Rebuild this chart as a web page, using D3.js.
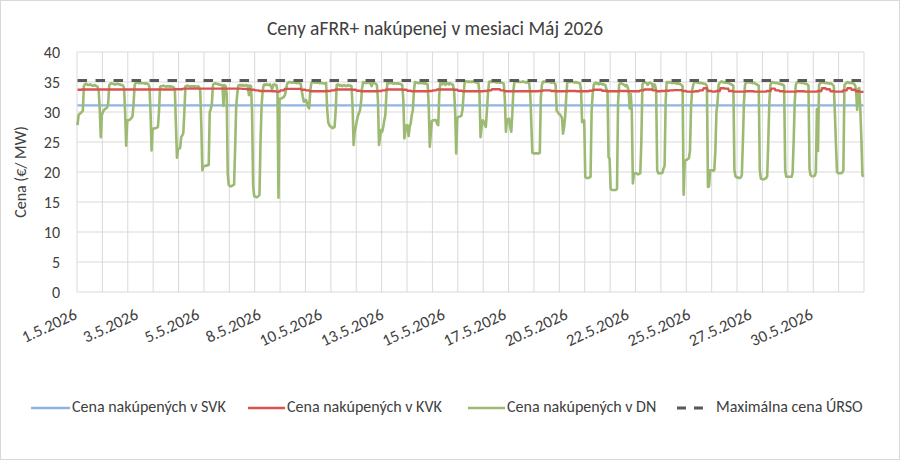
<!DOCTYPE html>
<html>
<head>
<meta charset="utf-8">
<script src="https://cdn.jsdelivr.net/npm/d3@7"></script>
<style>
  body { margin: 0; background: #fff; }
  text { font-family: Carlito, "Open Sans", Lato, sans-serif; fill: #404040; }
</style>
</head>
<body>
<div id="canvas"></div>
<script>
  const width = 900;
  const height = 460;

  const dates = ['1.5.2026', '2.5.2026', '3.5.2026', '4.5.2026', '5.5.2026', '6.5.2026', '7.5.2026', '8.5.2026',
    '9.5.2026', '10.5.2026', '11.5.2026', '12.5.2026', '13.5.2026', '14.5.2026', '15.5.2026', '16.5.2026',
    '17.5.2026', '18.5.2026', '19.5.2026', '20.5.2026', '21.5.2026', '22.5.2026', '23.5.2026', '24.5.2026',
    '25.5.2026', '26.5.2026', '27.5.2026', '28.5.2026', '29.5.2026', '30.5.2026', '31.5.2026'];
  const yTicks = [0, 5, 10, 15, 20, 25, 30, 35, 40];
  const labelEvery = 58; // hours between category labels

  // hourly price of aFRR+ bought on the day-ahead market (DN), one row per day
  const dnPrice = [
    [27.8, 29.5, 29.7, 29.8, 30.0, 30.2, 34.3, 34.6, 34.7, 34.6, 34.5, 34.5, 34.6, 34.5, 34.4, 34.4, 34.5, 34.4, 34.3, 34.2, 33.5, 30.5, 25.8, 29.5],
    [30.0, 30.3, 30.5, 30.6, 30.8, 31.5, 34.5, 34.7, 34.8, 34.7, 34.7, 34.6, 34.6, 34.7, 34.7, 34.6, 34.6, 34.5, 34.5, 34.4, 34.0, 30.0, 24.4, 28.6],
    [28.6, 28.7, 28.8, 29.0, 29.3, 31.5, 34.5, 34.8, 34.9, 34.9, 34.8, 34.8, 34.9, 34.8, 34.8, 34.8, 34.7, 34.8, 34.7, 34.6, 34.2, 30.0, 23.6, 27.2],
    [27.2, 27.3, 27.3, 27.4, 27.5, 30.0, 34.2, 34.3, 34.3, 34.4, 34.3, 34.3, 34.2, 34.3, 34.3, 34.2, 34.3, 34.2, 34.2, 34.1, 33.8, 28.0, 22.4, 23.8],
    [23.9, 24.0, 25.8, 26.1, 26.5, 30.0, 34.3, 34.3, 34.4, 34.3, 34.3, 34.2, 34.3, 34.3, 34.2, 34.3, 34.2, 34.2, 34.3, 34.1, 33.5, 28.0, 20.3, 21.0],
    [21.0, 21.0, 21.1, 21.1, 21.2, 30.0, 30.5, 31.4, 34.5, 34.7, 34.8, 34.7, 34.7, 34.6, 34.6, 34.5, 34.5, 34.5, 31.0, 34.5, 34.3, 33.0, 19.7, 17.8],
    [17.7, 17.6, 17.7, 17.8, 17.9, 24.0, 31.0, 33.0, 34.4, 34.5, 34.5, 34.4, 34.5, 34.4, 34.4, 34.5, 34.4, 34.4, 32.8, 34.4, 34.3, 30.0, 17.8, 16.0],
    [15.9, 15.8, 15.8, 16.0, 16.2, 25.0, 31.0, 33.5, 34.5, 34.6, 34.5, 34.6, 34.5, 34.5, 34.6, 34.2, 33.8, 34.5, 34.6, 34.5, 34.5, 33.5, 15.7, 32.2],
    [32.2, 32.3, 32.4, 32.5, 32.8, 33.5, 34.6, 34.9, 35.0, 35.0, 34.9, 34.9, 35.0, 34.9, 34.9, 34.8, 34.9, 34.8, 34.8, 34.7, 33.5, 32.5, 31.7, 31.8],
    [32.0, 31.5, 30.8, 30.6, 33.5, 34.8, 35.0, 35.0, 34.9, 35.0, 34.9, 34.9, 34.9, 34.8, 34.9, 34.8, 34.8, 34.8, 34.7, 34.8, 30.5, 28.3, 27.8, 27.6],
    [27.5, 27.3, 27.4, 27.5, 30.0, 34.5, 34.6, 34.5, 34.4, 34.5, 34.3, 34.4, 34.5, 34.4, 34.3, 34.4, 34.5, 34.4, 34.4, 34.3, 31.0, 24.5, 26.7, 27.5],
    [28.5, 29.3, 29.8, 30.3, 31.5, 34.0, 35.0, 34.9, 34.9, 34.8, 34.9, 34.9, 34.8, 34.9, 34.3, 34.8, 34.9, 34.8, 34.7, 34.5, 32.0, 24.5, 25.8, 27.0],
    [26.7, 27.5, 28.6, 29.5, 33.0, 35.0, 34.8, 34.8, 34.9, 34.8, 34.8, 34.7, 34.8, 34.8, 34.7, 34.8, 34.7, 34.7, 34.6, 34.5, 32.0, 25.6, 27.0, 27.8],
    [27.8, 26.0, 27.5, 28.1, 29.5, 30.3, 33.5, 35.0, 34.9, 34.9, 34.8, 34.8, 34.9, 34.8, 34.8, 34.8, 34.7, 34.8, 34.7, 34.6, 31.0, 24.2, 26.5, 28.5],
    [28.6, 28.6, 28.7, 28.6, 28.0, 27.8, 33.0, 35.0, 34.9, 34.6, 34.9, 34.8, 34.5, 34.9, 34.8, 34.6, 34.8, 34.7, 34.6, 34.5, 33.5, 30.0, 23.1, 29.0],
    [29.2, 29.2, 29.3, 29.4, 30.5, 33.0, 35.0, 35.1, 35.1, 35.0, 35.1, 35.0, 35.0, 35.1, 35.0, 35.0, 35.0, 34.9, 34.9, 34.8, 33.0, 25.8, 27.5, 28.6],
    [28.4, 28.0, 27.5, 30.2, 33.0, 35.0, 35.1, 35.0, 35.0, 35.1, 35.0, 35.0, 34.9, 35.0, 35.0, 34.9, 34.9, 34.9, 34.8, 34.7, 32.0, 26.7, 28.6, 28.8],
    [28.9, 27.5, 26.7, 29.5, 33.5, 35.0, 35.1, 35.1, 35.0, 35.1, 35.0, 35.0, 35.0, 35.1, 35.0, 35.0, 34.9, 35.0, 34.9, 34.8, 33.0, 28.0, 23.2, 23.1],
    [23.1, 23.1, 23.1, 23.1, 23.1, 23.2, 32.5, 34.5, 35.0, 35.1, 35.0, 35.0, 35.1, 35.0, 35.0, 35.0, 34.9, 35.0, 34.9, 34.8, 34.5, 30.2, 30.0, 29.7],
    [29.6, 29.3, 29.0, 26.4, 27.5, 29.3, 32.5, 35.0, 35.1, 35.0, 35.0, 35.1, 35.0, 35.0, 34.9, 35.0, 34.9, 34.9, 34.8, 34.8, 33.7, 28.3, 28.5, 28.6],
    [19.2, 19.0, 19.0, 19.0, 19.1, 19.2, 30.2, 33.0, 34.5, 34.8, 34.9, 34.7, 34.8, 34.6, 34.8, 34.7, 34.6, 34.7, 34.5, 34.5, 33.8, 33.5, 22.5, 22.2],
    [17.2, 17.0, 17.0, 17.0, 17.0, 17.0, 17.2, 31.5, 34.5, 34.8, 34.8, 34.7, 34.6, 34.5, 34.3, 34.5, 34.2, 33.5, 30.6, 33.0, 30.0, 18.1, 19.8, 19.8],
    [19.8, 19.7, 19.6, 19.7, 19.8, 25.0, 34.5, 34.9, 35.0, 34.9, 34.8, 34.5, 34.8, 34.9, 34.8, 34.7, 34.0, 34.6, 34.5, 33.5, 20.3, 19.8, 19.8, 19.8],
    [19.8, 19.9, 20.6, 21.0, 31.8, 35.0, 35.0, 34.9, 35.0, 34.9, 34.8, 34.9, 34.9, 34.8, 34.8, 34.7, 34.8, 34.7, 34.6, 34.5, 34.3, 16.2, 21.8, 22.0],
    [22.0, 22.2, 22.3, 23.6, 31.0, 33.5, 34.5, 34.9, 35.0, 35.0, 34.9, 34.9, 34.8, 34.9, 34.8, 34.8, 34.7, 34.7, 34.6, 34.3, 17.5, 17.6, 20.3, 20.3],
    [20.3, 20.2, 20.3, 23.6, 30.0, 31.5, 34.5, 34.8, 35.0, 35.1, 35.0, 34.9, 35.0, 34.9, 34.9, 34.8, 34.8, 34.7, 34.6, 34.5, 34.4, 20.3, 19.3, 19.1],
    [19.1, 19.0, 19.0, 19.1, 19.5, 25.0, 31.6, 34.5, 34.9, 35.0, 35.0, 34.9, 35.0, 34.9, 34.8, 34.9, 34.8, 34.7, 34.6, 34.5, 34.4, 20.3, 18.9, 18.8],
    [18.8, 18.8, 18.9, 19.0, 19.3, 25.0, 31.6, 34.5, 34.9, 35.0, 34.9, 34.9, 34.8, 34.9, 34.8, 34.7, 34.7, 34.6, 34.6, 34.5, 34.4, 20.3, 19.2, 19.2],
    [19.2, 19.2, 19.2, 19.2, 19.8, 25.0, 31.6, 34.5, 34.9, 35.0, 35.0, 34.9, 34.9, 34.8, 34.9, 34.8, 34.7, 34.7, 34.6, 34.4, 20.5, 19.5, 19.3, 19.3],
    [19.3, 19.4, 20.0, 30.5, 23.5, 34.5, 34.8, 34.9, 35.0, 34.9, 34.9, 34.8, 34.9, 34.8, 34.8, 34.7, 34.8, 34.7, 34.5, 34.3, 29.7, 24.5, 20.0, 19.8],
    [19.8, 19.8, 19.8, 19.9, 20.3, 34.5, 34.7, 34.9, 35.0, 34.9, 34.8, 34.9, 34.8, 34.8, 34.7, 34.5, 33.7, 30.4, 33.8, 34.0, 30.6, 25.6, 19.5, 19.2]
  ];

  // KVK price per 4-hour block, six blocks a day
  const kvkPrice = [
    [33.7, 33.75, 33.75, 33.75, 33.75, 33.75], [33.75, 33.75, 33.75, 33.75, 33.75, 33.75],
    [33.75, 33.75, 33.75, 33.75, 33.75, 33.75], [33.75, 33.75, 33.75, 33.75, 33.75, 33.8],
    [33.8, 33.9, 33.9, 33.9, 33.9, 33.9], [33.9, 33.9, 33.9, 33.9, 33.9, 33.9],
    [33.9, 33.9, 33.9, 33.85, 33.8, 33.7], [33.6, 33.5, 33.5, 33.5, 33.45, 33.4],
    [33.6, 33.85, 33.85, 33.85, 33.85, 33.7], [33.6, 33.45, 33.45, 33.45, 33.45, 33.5],
    [33.6, 33.75, 33.75, 33.75, 33.75, 33.7], [33.55, 33.45, 33.45, 33.45, 33.45, 33.5],
    [33.6, 33.75, 33.75, 33.75, 33.75, 33.7], [33.55, 33.45, 33.45, 33.45, 33.45, 33.5],
    [33.6, 33.75, 33.75, 33.75, 33.75, 33.7], [33.55, 33.45, 33.45, 33.45, 33.45, 33.45],
    [33.5, 33.6, 33.8, 33.8, 33.6, 33.45], [33.45, 33.45, 33.45, 33.45, 33.45, 33.45],
    [33.45, 33.5, 33.6, 33.6, 33.5, 33.45], [33.45, 33.45, 33.5, 33.5, 33.45, 33.45],
    [33.45, 33.55, 33.7, 33.7, 33.55, 33.45], [33.45, 33.45, 33.5, 33.5, 33.45, 33.45],
    [33.45, 33.6, 33.75, 33.75, 33.6, 33.45], [33.5, 33.55, 33.6, 33.65, 33.65, 33.5],
    [33.4, 33.4, 33.45, 33.6, 33.95, 33.5], [33.4, 33.5, 33.95, 33.9, 33.5, 33.4],
    [33.4, 33.4, 33.45, 33.45, 33.4, 33.4], [33.4, 33.5, 33.9, 33.6, 33.45, 33.4],
    [33.4, 33.4, 33.45, 33.45, 33.4, 33.4], [33.4, 33.5, 33.95, 33.8, 33.45, 33.4],
    [33.4, 33.6, 33.95, 33.7, 33.45, 33.35]
  ];

  // SVK price and URSO price cap, per day
  const svkPrice = [31.1, 31.1, 31.1, 31.1, 31.1, 31.1, 31.1, 31.1, 31.1, 31.1, 31.1, 31.1, 31.1, 31.1, 31.1, 31.1,
    31.1, 31.1, 31.1, 31.1, 31.1, 31.1, 31.1, 31.1, 31.1, 31.1, 31.1, 31.1, 31.1, 31.1, 31.1];
  const maxPrice = [35.25, 35.25, 35.25, 35.25, 35.25, 35.25, 35.25, 35.25, 35.25, 35.25, 35.25, 35.25, 35.25, 35.25, 35.25, 35.25,
    35.25, 35.25, 35.25, 35.25, 35.25, 35.25, 35.25, 35.25, 35.25, 35.25, 35.25, 35.25, 35.25, 35.25, 35.25];

  const hoursPerDay = 24;
  const nHours = dates.length * hoursPerDay;

  // spread every series onto the hourly category axis
  const dnHourly = dnPrice.flatMap((row, d) => row.map((v, h) => ({ i: d * 24 + h, v })));
  const kvkHourly = kvkPrice.flatMap((row, d) => row.flatMap((v, b) => [0, 1, 2, 3].map(k => ({ i: d * 24 + b * 4 + k, v }))));
  const svkHourly = svkPrice.flatMap((v, d) => d3.range(24).map(h => ({ i: d * 24 + h, v })));
  const maxHourly = maxPrice.flatMap((v, d) => d3.range(24).map(h => ({ i: d * 24 + h, v })));

  const margin = { left: 77, right: 36, top: 52, bottom: 168 };

  const svg = d3.select('#canvas')
    .append('svg')
    .attr('width', width)
    .attr('height', height);

  svg.append('rect')
    .attr('x', 0.5).attr('y', 0.5)
    .attr('width', width - 1).attr('height', height - 1)
    .attr('fill', '#fff')
    .attr('stroke', '#d9d9d9');

  const x = d3.scaleLinear()
    .domain([0, nHours])
    .range([margin.left, width - margin.right]);

  const y = d3.scaleLinear()
    .domain([0, 40])
    .range([height - margin.bottom, margin.top]);

  // grid
  svg.append('g')
    .selectAll('line')
    .data(yTicks)
    .enter()
    .append('line')
    .attr('x1', x(0)).attr('x2', x(nHours))
    .attr('y1', d => y(d)).attr('y2', d => y(d))
    .attr('stroke', '#d9d9d9')
    .attr('stroke-width', 1);

  svg.append('g')
    .selectAll('line')
    .data(d3.range(0, dates.length + 1))
    .enter()
    .append('line')
    .attr('x1', d => x(d * hoursPerDay)).attr('x2', d => x(d * hoursPerDay))
    .attr('y1', y(0)).attr('y2', y(40))
    .attr('stroke', '#d9d9d9')
    .attr('stroke-width', 1);

  // y axis labels
  const yAxis = svg.append('g')
    .attr('transform', `translate(${margin.left},0)`)
    .call(d3.axisLeft(y).tickValues(yTicks).tickSize(0).tickPadding(17));
  yAxis.select('.domain').remove();
  yAxis.selectAll('text')
    .style('font-size', '16px')
    .attr('fill', '#404040');

  svg.append('text')
    .attr('transform', `translate(22,${(y(0) + y(40)) / 2}) rotate(-90)`)
    .attr('text-anchor', 'middle')
    .attr('dominant-baseline', 'middle')
    .style('font-size', '16px')
    .text('Cena (€/ MW)');

  // category labels, every 58th hour
  const labelHours = d3.range(0, nHours, labelEvery);
  svg.append('g')
    .selectAll('text')
    .data(labelHours)
    .enter()
    .append('text')
    .attr('transform', d => `translate(${x(d + 0.5) - 2},313) rotate(-25)`)
    .attr('text-anchor', 'end')
    .attr('dy', '0.35em')
    .style('font-size', '16.5px')
    .text(d => dates[Math.floor(d / hoursPerDay)]);

  const line = d3.line()
    .x(d => x(d.i + 0.5))
    .y(d => y(d.v));

  const plot = svg.append('g');

  plot.append('path')
    .datum(svkHourly)
    .attr('d', line)
    .attr('fill', 'none')
    .attr('stroke', '#8eb4e3')
    .attr('stroke-width', 2.2);

  plot.append('path')
    .datum(dnHourly)
    .attr('d', line)
    .attr('fill', 'none')
    .attr('stroke', '#9cba72')
    .attr('stroke-width', 2.6)
    .attr('stroke-linejoin', 'round');

  plot.append('path')
    .datum(kvkHourly)
    .attr('d', line)
    .attr('fill', 'none')
    .attr('stroke', '#d9534f')
    .attr('stroke-width', 2.4);

  plot.append('path')
    .datum(maxHourly)
    .attr('d', line)
    .attr('fill', 'none')
    .attr('stroke', '#595959')
    .attr('stroke-width', 3)
    .attr('stroke-dasharray', '9.5,8.5');

  // title
  svg.append('text')
    .attr('x', 435)
    .attr('y', 30)
    .attr('text-anchor', 'middle')
    .attr('dominant-baseline', 'middle')
    .style('font-size', '19.5px')
    .text('Ceny aFRR+ nakúpenej  v mesiaci Máj 2026');

  // Legend
  const legendY = 408;
  const legendItems = [
    { label: 'Cena nakúpených v SVK', color: '#8eb4e3', x1: 31, x2: 70, tx: 72, dash: null, w: 2.5 },
    { label: 'Cena nakúpených v KVK', color: '#d9534f', x1: 248, x2: 285, tx: 287, dash: null, w: 2.5 },
    { label: 'Cena nakúpených v DN', color: '#9cba72', x1: 468, x2: 505, tx: 507, dash: null, w: 2.5 },
    { label: 'Maximálna cena ÚRSO', color: '#595959', x1: 677, x2: 703, tx: 716, dash: '9,8', w: 3 }
  ];
  const legend = svg.append('g');
  legendItems.forEach(it => {
    legend.append('line')
      .attr('x1', it.x1).attr('x2', it.x2)
      .attr('y1', legendY).attr('y2', legendY)
      .attr('stroke', it.color)
      .attr('stroke-width', it.w)
      .attr('stroke-dasharray', it.dash);
    legend.append('text')
      .attr('x', it.tx).attr('y', legendY)
      .attr('dominant-baseline', 'middle')
      .style('font-size', '16px')
      .text(it.label);
  });
</script>
</body>
</html>
